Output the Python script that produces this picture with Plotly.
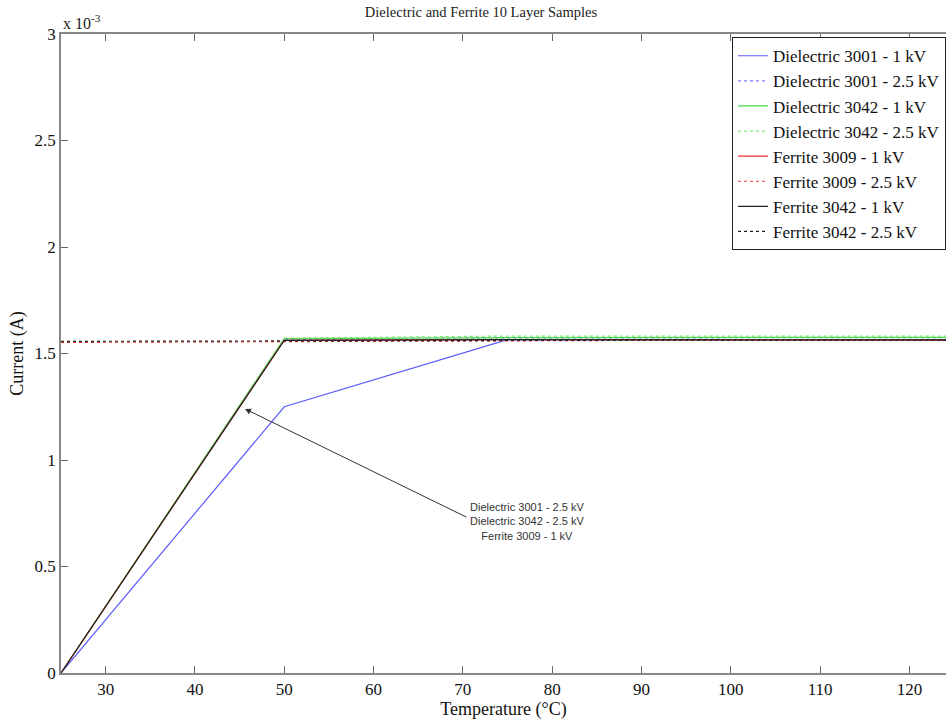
import plotly.graph_objects as go

# Data (current in units of 1e-3 A)
temps = [25, 50, 75, 100, 125]
series_names = [
    "Dielectric 3001 - 1 kV",
    "Dielectric 3001 - 2.5 kV",
    "Dielectric 3042 - 1 kV",
    "Dielectric 3042 - 2.5 kV",
    "Ferrite 3009 - 1 kV",
    "Ferrite 3009 - 2.5 kV",
    "Ferrite 3042 - 1 kV",
    "Ferrite 3042 - 2.5 kV",
]
d3001_1kv = [0.0, 1.25, 1.565, 1.562, 1.562]
d3001_25kv = [0.0, 1.565, 1.568, 1.566, 1.566]
d3042_1kv = [0.0, 1.57, 1.575, 1.576, 1.576]
d3042_25kv = [0.0, 1.572, 1.582, 1.582, 1.582]
f3009_1kv = [0.0, 1.562, 1.565, 1.563, 1.563]
f3009_25kv = [1.552, 1.556, 1.562, 1.563, 1.563]
f3042_1kv = [0.0, 1.562, 1.565, 1.564, 1.564]
f3042_25kv = [1.557, 1.56, 1.563, 1.563, 1.563]
series_values = [d3001_1kv, d3001_25kv, d3042_1kv, d3042_25kv,
                 f3009_1kv, f3009_25kv, f3042_1kv, f3042_25kv]
series_colors = ["#5a5aff", "#7a7aff", "#4ad64a", "#7ae87a",
                 "#f03030", "#f03030", "#222222", "#222222"]
series_dash = ["solid", "dot", "solid", "dot", "solid", "dot", "solid", "dot"]

y_ticks = [0, 0.5, 1, 1.5, 2, 2.5, 3]
y_tick_labels = ["0", "0.5", "1", "1.5", "2", "2.5", "3"]
x_ticks = [30, 40, 50, 60, 70, 80, 90, 100, 110, 120]

annotation_lines = ["Dielectric 3001 - 2.5 kV", "Dielectric 3042 - 2.5 kV", "Ferrite 3009 - 1 kV"]
arrow_point = (45.6, 1.24)
label_point = (77.2, 0.713)

serif = "Liberation Serif, Times New Roman, serif"

fig = go.Figure()
for name, vals, col, dash in zip(series_names, series_values, series_colors, series_dash):
    fig.add_trace(go.Scatter(x=temps, y=vals, mode="lines", name=name,
                             line=dict(color=col, width=1.2, dash=dash)))

fig.update_layout(
    width=946, height=721,
    margin=dict(l=61, r=0, t=34, b=48),
    paper_bgcolor="white", plot_bgcolor="white",
    font=dict(family=serif, size=17, color="#111"),
    title=dict(text="Dielectric and Ferrite 10 Layer Samples",
               font=dict(family=serif, size=14.5, color="#222"),
               xref="paper", x=0.4746, xanchor="center",
               yref="container", y=0.983, yanchor="middle"),
    showlegend=True,
    legend=dict(x=1.0, xanchor="right", y=0.995, yanchor="top",
                bgcolor="white", bordercolor="#222", borderwidth=1,
                font=dict(family=serif, size=17, color="#111"),
                tracegroupgap=0, itemwidth=30),
    xaxis=dict(range=[25, 124.1], tickvals=x_ticks, ticks="inside", ticklen=7,
               tickcolor="#666", showline=True, linecolor="#888", linewidth=1.5,
               mirror="ticks", showgrid=False, zeroline=False,
               tickfont=dict(family=serif, size=17),
               title=dict(text="Temperature (°C)", font=dict(family=serif, size=18),
                          standoff=4)),
    yaxis=dict(range=[0, 3], tickvals=y_ticks, ticktext=y_tick_labels,
               ticks="inside", ticklen=7, tickcolor="#666",
               showline=True, linecolor="#888", linewidth=1.5,
               showgrid=False, zeroline=False,
               tickfont=dict(family=serif, size=17),
               title=dict(text="Current (A)", font=dict(family=serif, size=18),
                          standoff=6)),
)

fig.add_annotation(text="x 10<sup>-3</sup>", xref="paper", yref="paper",
                   x=0.0, y=1.0, xanchor="left", yanchor="bottom", showarrow=False,
                   font=dict(family=serif, size=16, color="#222"))

# arrow only
fig.add_annotation(
    text="", x=arrow_point[0], y=arrow_point[1], xref="x", yref="y",
    ax=223, ay=109, axref="pixel", ayref="pixel",
    showarrow=True, arrowhead=2, arrowsize=1.2, arrowwidth=1, arrowcolor="#333",
)
# label text
fig.add_annotation(
    text="<br>".join(annotation_lines),
    x=label_point[0], y=label_point[1], xref="x", yref="y",
    showarrow=False, xanchor="center", yanchor="middle",
    font=dict(family="Liberation Sans, Arial, sans-serif", size=11, color="#333"),
    align="center",
)

fig.write_html("out.html")
